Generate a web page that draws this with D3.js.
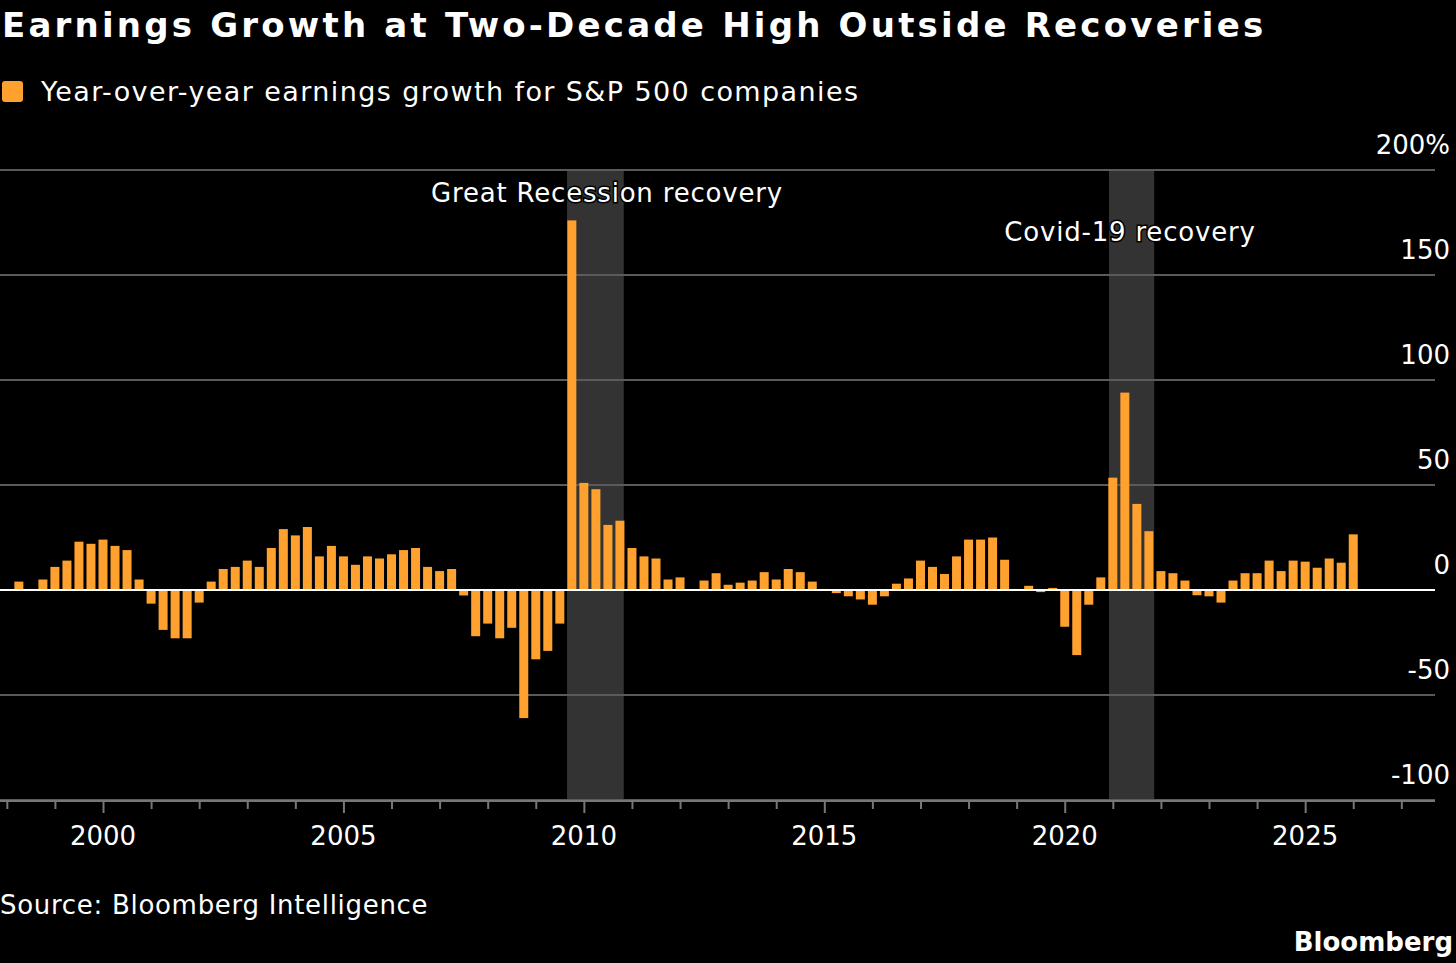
<!DOCTYPE html>
<html>
<head>
<meta charset="utf-8">
<script src="https://cdn.jsdelivr.net/npm/d3@7"></script>
<style>
  body { margin: 0; background: #000; }
  text { font-family: "DejaVu Sans", sans-serif; fill: #fff; }
</style>
</head>
<body>
<div id="chart"></div>
<script>
// quarterly YoY earnings growth, first bar is 1998 Q2
const firstQuarter = 1998.25;
const growth = [
  4, 0.5, 5, 11, 14, 23, 22, 24, 21, 19, 5, -6.5, -19, -23, -23, -6,
  4, 10, 11, 14, 11, 20, 29, 26, 30, 16, 21, 16, 12, 16, 15, 17,
  19, 20, 11, 9, 10, -2.6, -22, -16, -23, -18, -61, -33, -29, -16,
  176, 51, 48, 31, 33, 20, 16, 15, 5, 6, 0.3, 4.5, 8, 2.5, 3.5, 4.5,
  8.5, 5, 10, 8.5, 4, 0.5, -1.5, -3, -4.5, -7, -3, 3, 5.5, 14,
  11, 7.6, 16, 24, 24, 25, 14.4, 0.5, 2, -1, 1, -17.5, -31, -7,
  6, 53.5, 94, 41, 28, 9, 8, 4.5, -2.5, -3, -6, 4.5, 8, 8,
  14, 9, 14, 13.5, 10.6, 15, 13, 26.5
];
const quarters = growth.map((_, i) => firstQuarter + i * 0.25);
const yTicks = [-100, -50, 0, 50, 100, 150, 200];
const yearTicks = [2000, 2005, 2010, 2015, 2020, 2025];
const bands = [
  { label: "Great Recession recovery", from: 2009.65, to: 2010.83 },
  { label: "Covid-19 recovery", from: 2020.92, to: 2021.86 }
];

const width = 1456, height = 963;
const svg = d3.select("#chart").append("svg")
  .attr("width", width).attr("height", height);

const x = d3.scaleLinear().domain([1997.858, 2027.7]).range([0, 1435]);
const y = d3.scaleLinear().domain([-100, 200]).range([800, 170]);

svg.append("text").attr("x", 2).attr("y", 37)
  .style("font-size", "34px").style("font-weight", "bold").style("letter-spacing", "3.2px")
  .text("Earnings Growth at Two-Decade High Outside Recoveries");

svg.append("rect").attr("x", 2).attr("y", 81).attr("width", 21).attr("height", 21)
  .attr("rx", 3).attr("fill", "#ffa12f");
svg.append("text").attr("x", 41).attr("y", 101).style("font-size", "27px")
  .style("letter-spacing", "1.4px")
  .text("Year-over-year earnings growth for S&P 500 companies");

// shaded recovery periods
svg.selectAll(".band").data(bands).enter().append("rect")
  .attr("x", d => x(d.from)).attr("width", d => x(d.to) - x(d.from))
  .attr("y", 170).attr("height", 630).attr("fill", "#333");

// gridlines + labels
svg.selectAll(".grid").data(yTicks).enter().append("line")
  .attr("x1", 0).attr("x2", 1435)
  .attr("y1", d => y(d)).attr("y2", d => y(d))
  .attr("stroke", d => d === 0 ? "#fff" : "#5a5a5a").attr("stroke-width", 2);
svg.selectAll(".ylab").data(yTicks).enter().append("text")
  .attr("x", 1450).attr("y", d => y(d) - 16).attr("text-anchor", "end")
  .style("font-size", "26px")
  .text(d => d === 200 ? "200%" : d);

svg.selectAll(".bar").data(growth).enter().append("rect")
  .attr("x", (d, i) => x(quarters[i]) - 4.5).attr("width", 9)
  .attr("y", d => y(Math.max(0, d)))
  .attr("height", d => Math.abs(y(d) - y(0)))
  .attr("fill", "#ffa12f");

svg.append("line").attr("x1", 0).attr("x2", 1435).attr("y1", y(0)).attr("y2", y(0))
  .attr("stroke", "#fff").attr("stroke-width", 2);

svg.selectAll(".blab").data(bands).enter().append("text")
  .attr("x", (d, i) => i === 0 ? 607 : 1130).attr("y", (d, i) => i === 0 ? 202 : 241)
  .attr("text-anchor", "middle").style("font-size", "26px").style("letter-spacing", "0.8px")
  .style("paint-order", "stroke").attr("stroke", "#000").attr("stroke-width", 3)
  .text(d => d.label);

// x axis
const xAxis = d3.axisBottom(x)
  .tickValues(d3.range(1998, 2028))
  .tickSize(8).tickFormat("");
const gx = svg.append("g").attr("transform", "translate(0,801)").call(xAxis);
gx.select(".domain").attr("stroke", "#777").attr("stroke-width", 2).attr("d", "M0,0H1435");
gx.selectAll("line").attr("stroke", "#777").attr("stroke-width", 2)
  .attr("y2", d => yearTicks.includes(d) ? 12 : 8);
svg.selectAll(".xlab").data(yearTicks).enter().append("text")
  .attr("x", d => x(d)).attr("y", 845).attr("text-anchor", "middle")
  .style("font-size", "26px").text(d => d);

svg.append("text").attr("x", 0).attr("y", 914).style("font-size", "26px")
  .style("letter-spacing", "0.7px").text("Source: Bloomberg Intelligence");
svg.append("text").attr("x", 1453).attr("y", 951).attr("text-anchor", "end")
  .style("font-size", "26px").style("font-weight", "bold").text("Bloomberg");
</script>
</body>
</html>
